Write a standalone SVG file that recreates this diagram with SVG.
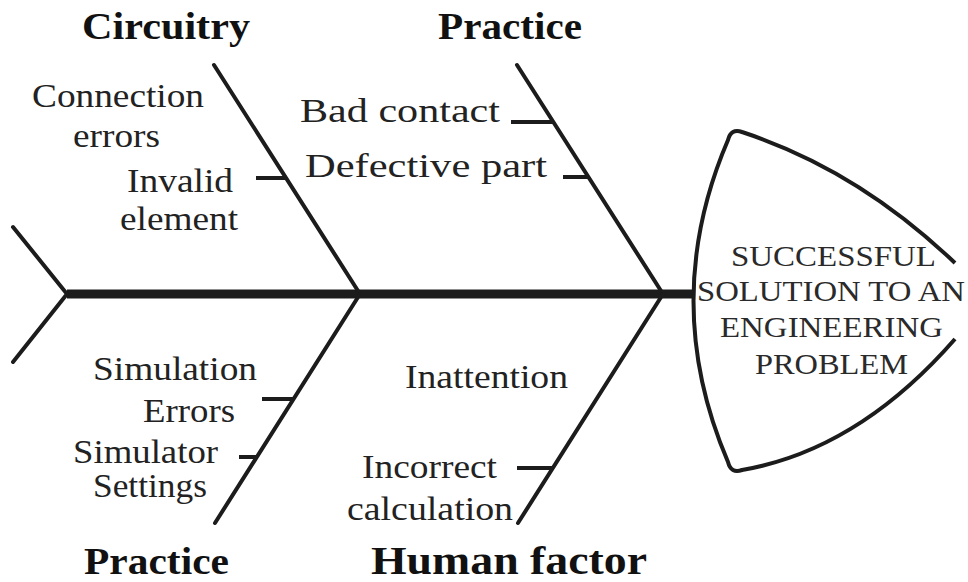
<svg xmlns="http://www.w3.org/2000/svg" width="968" height="582" viewBox="0 0 968 582">
  <style>
    .bone { stroke: #1c1c1c; stroke-width: 4; fill: none; stroke-linecap: round; }
    .tick { stroke: #1c1c1c; stroke-width: 4; fill: none; }
    .spine { stroke: #1c1c1c; stroke-width: 9; fill: none; }
    .head { stroke: #1c1c1c; stroke-width: 4; fill: #ffffff; stroke-linejoin: round; }
    .lbl { font-family: "Liberation Serif", "Times New Roman", serif; font-size: 34px; fill: #222222; }
    .cat { font-family: "Liberation Serif", "Times New Roman", serif; font-size: 37px; font-weight: bold; fill: #111111; }
    .goal { font-family: "Liberation Serif", "Times New Roman", serif; font-size: 30px; fill: #2a2a2a; }
  </style>
  <rect width="968" height="582" fill="#ffffff"/>

  <!-- connectors: spine, tail and category bones with cause ticks -->
  <g id="connectors">
    <line class="spine" x1="67" y1="294" x2="694" y2="294"/>
    <polyline class="bone" points="13,227 67,294 13,362"/>
    <line class="bone" x1="214" y1="65" x2="360" y2="294"/>
    <line class="bone" x1="517" y1="65" x2="663" y2="294"/>
    <line class="bone" x1="360" y1="294" x2="215" y2="523"/>
    <line class="bone" x1="663" y1="294" x2="518" y2="523"/>
    <line class="tick" x1="256" y1="178" x2="286" y2="178"/>
    <line class="tick" x1="511" y1="122" x2="553" y2="122"/>
    <line class="tick" x1="563" y1="177" x2="588" y2="177"/>
    <line class="tick" x1="262" y1="399" x2="294" y2="399"/>
    <line class="tick" x1="239" y1="457" x2="258" y2="457"/>
    <line class="tick" x1="517" y1="468" x2="553" y2="468"/>
  </g>

  <!-- fish head: the outcome -->
  <g id="head">
    <path class="head" d="M955,263 Q858,170 742,132 Q731,128 728,140 Q659,301 728,462 Q731,474 742,470 Q858,450 955,339"/>
    <text class="goal" x="731" y="266" textLength="205" lengthAdjust="spacingAndGlyphs">SUCCESSFUL</text>
    <text class="goal" x="697" y="301" textLength="268" lengthAdjust="spacingAndGlyphs">SOLUTION TO AN</text>
    <text class="goal" x="720" y="337" textLength="223" lengthAdjust="spacingAndGlyphs">ENGINEERING</text>
    <text class="goal" x="755" y="374" textLength="153" lengthAdjust="spacingAndGlyphs">PROBLEM</text>
  </g>

  <!-- category: Circuitry -->
  <g id="circuitry">
    <text class="cat" x="82" y="39" textLength="168" lengthAdjust="spacingAndGlyphs">Circuitry</text>
    <text class="lbl" x="32" y="107" textLength="172" lengthAdjust="spacingAndGlyphs">Connection</text>
    <text class="lbl" x="73" y="147" textLength="87" lengthAdjust="spacingAndGlyphs">errors</text>
    <text class="lbl" x="127" y="192" textLength="106" lengthAdjust="spacingAndGlyphs">Invalid</text>
    <text class="lbl" x="120" y="230" textLength="118" lengthAdjust="spacingAndGlyphs">element</text>
  </g>

  <!-- category: Practice (upper) -->
  <g id="practice-top">
    <text class="cat" x="438" y="39" textLength="144" lengthAdjust="spacingAndGlyphs">Practice</text>
    <text class="lbl" x="300" y="122" textLength="200" lengthAdjust="spacingAndGlyphs">Bad contact</text>
    <text class="lbl" x="305" y="177" textLength="242" lengthAdjust="spacingAndGlyphs">Defective part</text>
  </g>

  <!-- category: Practice (lower) -->
  <g id="practice-bottom">
    <text class="cat" x="84" y="574" textLength="145" lengthAdjust="spacingAndGlyphs">Practice</text>
    <text class="lbl" x="93" y="380" textLength="164" lengthAdjust="spacingAndGlyphs">Simulation</text>
    <text class="lbl" x="143" y="422" textLength="92" lengthAdjust="spacingAndGlyphs">Errors</text>
    <text class="lbl" x="73" y="463" textLength="145" lengthAdjust="spacingAndGlyphs">Simulator</text>
    <text class="lbl" x="93" y="497" textLength="114" lengthAdjust="spacingAndGlyphs">Settings</text>
  </g>

  <!-- category: Human factor -->
  <g id="human-factor">
    <text class="cat" x="371" y="574" textLength="276" lengthAdjust="spacingAndGlyphs" style="font-size:40px">Human factor</text>
    <text class="lbl" x="405" y="388" textLength="163" lengthAdjust="spacingAndGlyphs">Inattention</text>
    <text class="lbl" x="362" y="478" textLength="135" lengthAdjust="spacingAndGlyphs">Incorrect</text>
    <text class="lbl" x="347" y="520" textLength="166" lengthAdjust="spacingAndGlyphs">calculation</text>
  </g>
</svg>
